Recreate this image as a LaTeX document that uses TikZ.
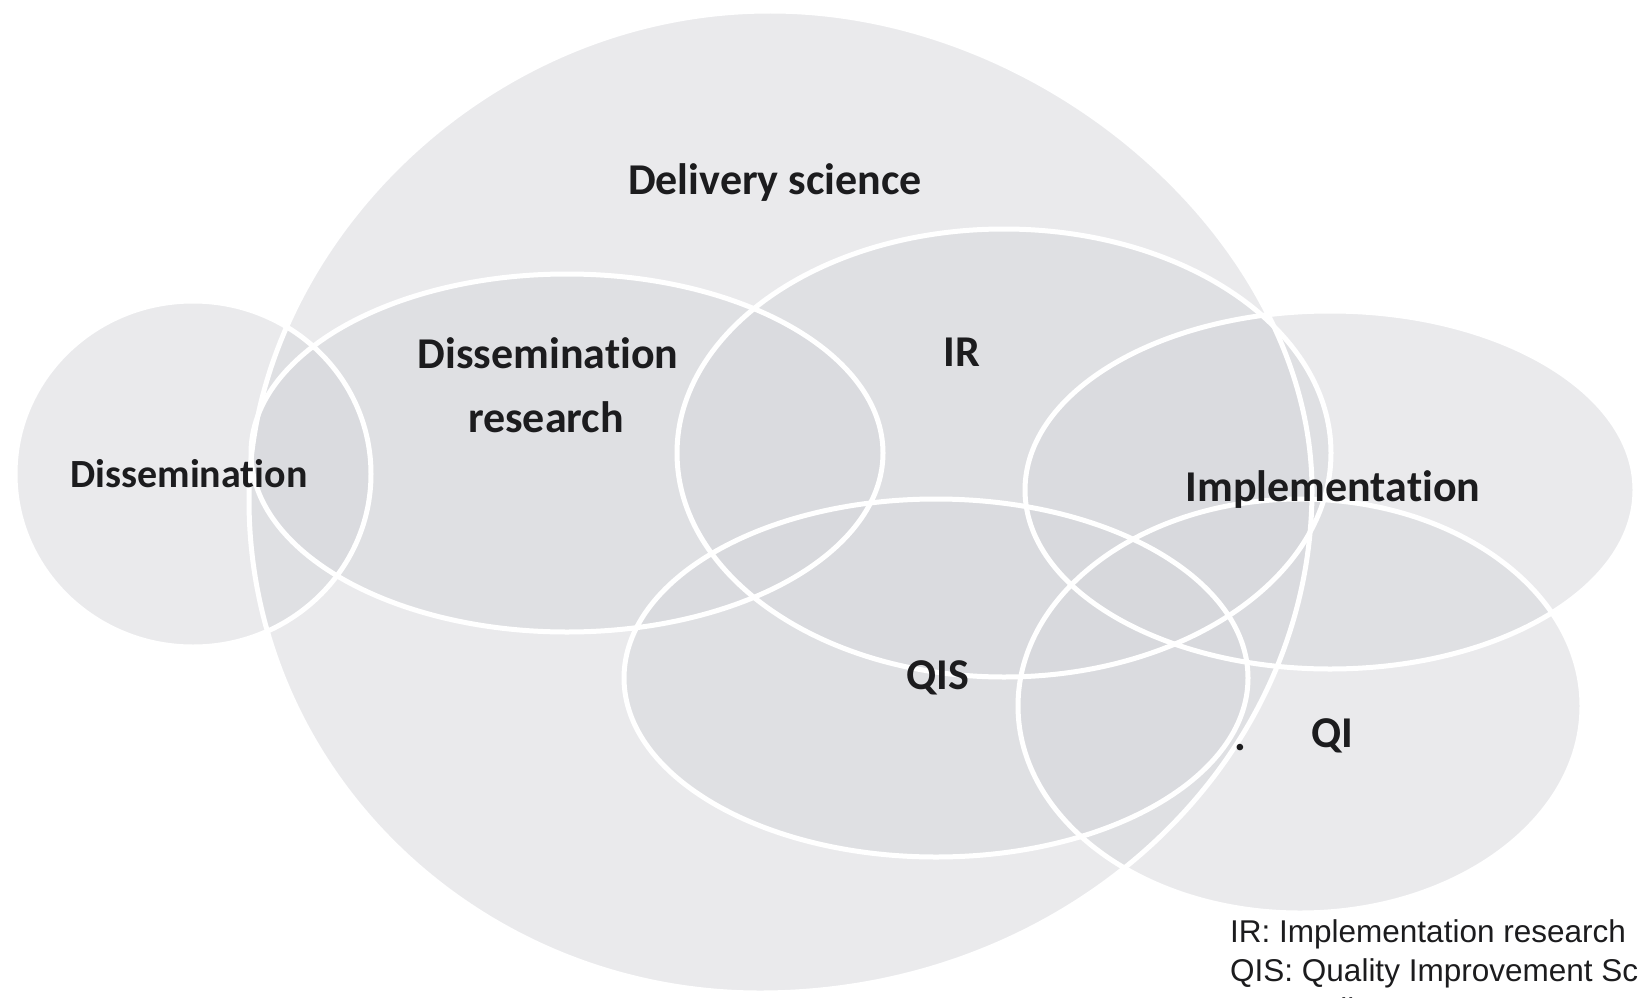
\documentclass[tikz,border=0pt]{standalone}
\usepackage{fontspec}
\setmainfont{Carlito}[Ligatures={NoCommon,NoContextual}]
\newfontfamily\legendfont{Liberation Sans}
\definecolor{shade}{RGB}{214,215,219}
\definecolor{ink}{RGB}{28,28,30}
\begin{document}
\begin{tikzpicture}[x=1pt,y=-1pt,
  region/.style={fill=shade,fill opacity=0.52,draw=none},
  rim/.style={draw=white,line width=5pt},
  lbl/.style={font=\fontsize{44}{50}\selectfont\bfseries,text=ink,inner sep=0pt,anchor=base},
  legend/.style={font=\legendfont\fontsize{31.5}{39}\selectfont,text=ink,inner sep=0pt,anchor=base west}]
\useasboundingbox (0,0) rectangle (1638,998);
\begin{scope}
\clip (0,0) rectangle (1638,998);
% fills
\path[region] (249,500) .. controls (249,255) and (480,11) .. (770,11) .. controls (1050,11) and (1312,245) .. (1312,490) .. controls (1312,768) and (1065,993) .. (760,993) .. controls (478,993) and (249,772) .. (249,500) -- cycle;
\path[region] (193,474) ellipse [x radius=178, y radius=173];
\path[region] (567,453) ellipse [x radius=316, y radius=179];
\path[region] (1004,453) ellipse [x radius=327, y radius=224];
\path[region] (936,678) ellipse [x radius=312, y radius=179];
\path[region] (1330,490) ellipse [x radius=305, y radius=179];
\path[region] (1300,706) ellipse [x radius=282, y radius=207];
% outlines
\path[rim] (249,500) .. controls (249,255) and (480,11) .. (770,11) .. controls (1050,11) and (1312,245) .. (1312,490) .. controls (1312,768) and (1065,993) .. (760,993) .. controls (478,993) and (249,772) .. (249,500) -- cycle;
\path[rim] (193,474) ellipse [x radius=178, y radius=173];
\path[rim] (567,453) ellipse [x radius=316, y radius=179];
\path[rim] (1004,453) ellipse [x radius=327, y radius=224];
\path[rim] (936,678) ellipse [x radius=312, y radius=179];
\path[rim] (1330,490) ellipse [x radius=305, y radius=179];
\path[rim] (1300,706) ellipse [x radius=282, y radius=207];
% labels
\node[lbl] (ds) at (775,194) {Delivery science};
\node[lbl] (dr1) at (548,368) {Dissemination};
\node[lbl] (dr2) at (546,432) {research};
\node[lbl] (ir) at (962,366) {IR};
\node[lbl,font=\fontsize{40}{46}\selectfont\bfseries] (dis) at (189,487) {Dissemination};
\node[lbl] (imp) at (1333,501) {Implementation};
\node[lbl] (qis) at (938,689) {QIS};
\node[lbl] (qi) at (1332,747) {QI};
\node[lbl] (dot) at (1240,750) {.};
% legend
\node[legend] (l1) at (1230,942) {IR: Implementation research};
\node[legend] (l2) at (1230,981) {QIS: Quality Improvement Science};
\node[legend] (l3) at (1230,1020) {QI: Quality Improvement};
\end{scope}
\end{tikzpicture}
\end{document}
